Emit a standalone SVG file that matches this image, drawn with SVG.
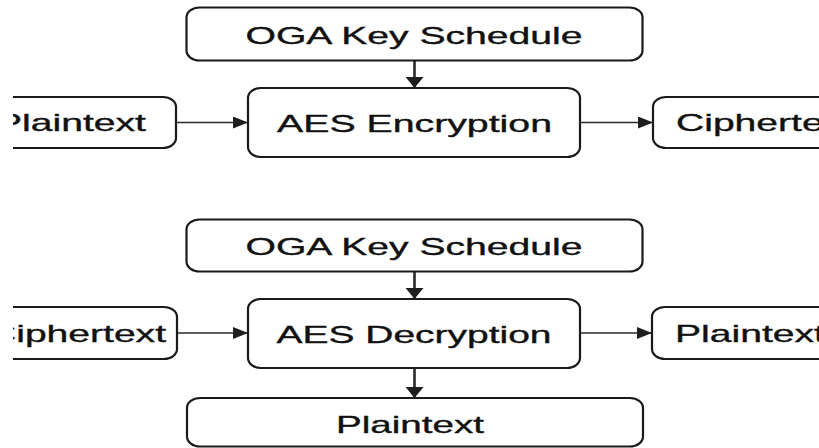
<svg xmlns="http://www.w3.org/2000/svg" width="819" height="448" viewBox="0 0 819 448">
  <defs>
    <style>
      .box { fill: #ffffff; stroke: #1a1a1a; stroke-width: 2.2; }
      .lbl { font-family: "Liberation Sans", Arial, sans-serif; font-size: 24px; fill: #111111; stroke: #111111; stroke-width: 0.35; }
      .mid { text-anchor: middle; }
      .h { stroke: #2a2a2a; stroke-width: 1.7; fill: none; marker-end: url(#ah); }
      .v { stroke: #2a2a2a; stroke-width: 2.6; fill: none; marker-end: url(#av); }
    </style>
    <marker id="ah" markerUnits="userSpaceOnUse" markerWidth="16" markerHeight="13" refX="15" refY="6" orient="auto">
      <path d="M0,0 L15,6 L0,12 Z" fill="#1e1e1e"/>
    </marker>
    <marker id="av" markerUnits="userSpaceOnUse" markerWidth="19" markerHeight="12" refX="9" refY="11" orient="0">
      <path d="M0,0 L18,0 L9,11 Z" fill="#1e1e1e"/>
    </marker>
    <clipPath id="crop">
      <rect x="13" y="0" width="806" height="448"/>
    </clipPath>
  </defs>
  <rect x="0" y="0" width="819" height="448" fill="#ffffff"/>

  <g id="connectors">
    <line class="v" x1="414.5" y1="61" x2="414.5" y2="88"/>
    <line class="h" x1="176" y1="122.5" x2="248" y2="122.5"/>
    <line class="h" x1="580" y1="122.5" x2="653" y2="122.5"/>
    <line class="v" x1="414.5" y1="272" x2="414.5" y2="299"/>
    <line class="h" x1="177" y1="333" x2="248" y2="333"/>
    <line class="h" x1="580" y1="333" x2="652" y2="333"/>
    <line class="v" x1="414.5" y1="368" x2="414.5" y2="398"/>
  </g>

  <g id="oga-key-schedule-1">
    <rect class="box" x="186.5" y="7.5" width="456" height="53" rx="13" ry="10"/>
    <text class="lbl mid" x="414" y="44" textLength="337" lengthAdjust="spacingAndGlyphs">OGA Key Schedule</text>
  </g>
  <g id="aes-encryption">
    <rect class="box" x="248" y="88" width="332" height="69" rx="13" ry="10"/>
    <text class="lbl mid" x="414.5" y="132" textLength="275" lengthAdjust="spacingAndGlyphs">AES Encryption</text>
  </g>
  <g id="plaintext-in" clip-path="url(#crop)">
    <rect class="box" x="-30" y="97" width="206" height="51" rx="13" ry="10"/>
    <text class="lbl" x="-4" y="131" textLength="150" lengthAdjust="spacingAndGlyphs">Plaintext</text>
  </g>
  <g id="ciphertext-out">
    <rect class="box" x="653" y="97" width="240" height="51" rx="13" ry="10"/>
    <text class="lbl" x="676" y="131" textLength="178" lengthAdjust="spacingAndGlyphs">Ciphertext</text>
  </g>

  <g id="oga-key-schedule-2">
    <rect class="box" x="186.5" y="219.5" width="456" height="52" rx="13" ry="10"/>
    <text class="lbl mid" x="414" y="255" textLength="337" lengthAdjust="spacingAndGlyphs">OGA Key Schedule</text>
  </g>
  <g id="aes-decryption">
    <rect class="box" x="248" y="299" width="332" height="69" rx="13" ry="10"/>
    <text class="lbl mid" x="414" y="343" textLength="275" lengthAdjust="spacingAndGlyphs">AES Decryption</text>
  </g>
  <g id="ciphertext-in" clip-path="url(#crop)">
    <rect class="box" x="-30" y="307" width="207" height="52" rx="13" ry="10"/>
    <text class="lbl" x="-12" y="342" textLength="178" lengthAdjust="spacingAndGlyphs">Ciphertext</text>
  </g>
  <g id="plaintext-out-right">
    <rect class="box" x="652" y="307" width="240" height="52" rx="13" ry="10"/>
    <text class="lbl" x="675" y="342" textLength="150" lengthAdjust="spacingAndGlyphs">Plaintext</text>
  </g>
  <g id="plaintext-out-bottom">
    <rect class="box" x="187" y="398" width="456" height="48.5" rx="13" ry="10"/>
    <text class="lbl mid" x="410" y="433" textLength="148" lengthAdjust="spacingAndGlyphs">Plaintext</text>
  </g>
</svg>
